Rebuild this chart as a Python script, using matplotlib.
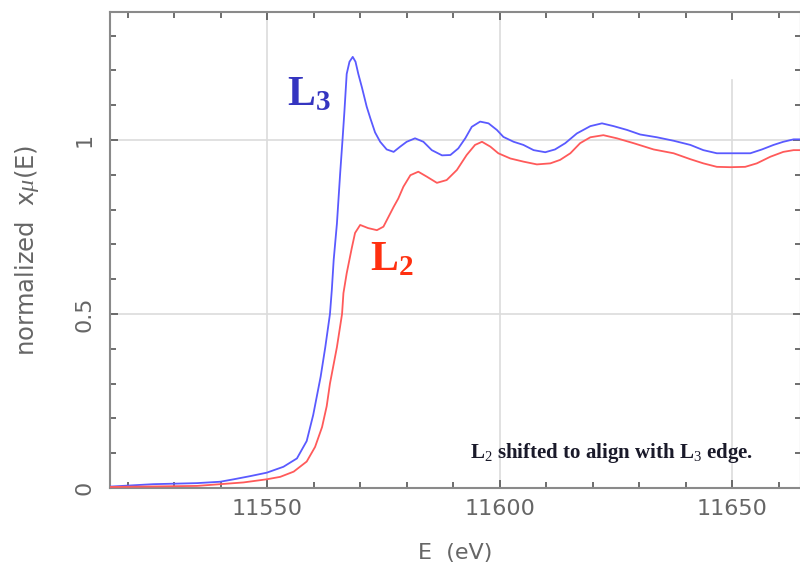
import matplotlib
matplotlib.use("Agg")
import matplotlib.pyplot as plt
from matplotlib.ticker import MultipleLocator

# ---- data ----
energy_L3 = [11516.2, 11525.5, 11534.9, 11539.9, 11542.8, 11546.3, 11549.9, 11553.5,
             11556.4, 11558.5, 11559.9, 11561.5, 11562.5, 11563.5, 11563.9, 11564.3,
             11565.0, 11565.7, 11566.2, 11566.6, 11567.1, 11567.7, 11568.4, 11569.0,
             11569.6, 11570.4, 11571.4, 11572.2, 11573.2, 11574.3, 11575.7, 11577.2,
             11578.6, 11580.0, 11581.8, 11583.6, 11585.4, 11587.6, 11589.4, 11591.1,
             11592.6, 11594.0, 11595.8, 11597.6, 11599.4, 11600.8, 11603.0, 11605.1,
             11607.3, 11609.8, 11611.9, 11614.1, 11616.6, 11619.5, 11622.0, 11624.5,
             11627.4, 11630.2, 11633.8, 11637.4, 11641.0, 11643.8, 11646.7, 11650.3,
             11653.9, 11656.4, 11658.9, 11661.0, 11663.2, 11664.8]
mu_L3 = [0.004, 0.011, 0.014, 0.018, 0.025, 0.034, 0.044, 0.061,
         0.085, 0.135, 0.210, 0.320, 0.405, 0.500, 0.569, 0.655,
         0.760, 0.905, 1.000, 1.080, 1.190, 1.225, 1.239, 1.225,
         1.190, 1.150, 1.096, 1.062, 1.022, 0.995, 0.973, 0.966,
         0.981, 0.995, 1.005, 0.995, 0.971, 0.956, 0.957, 0.976,
         1.005, 1.038, 1.053, 1.048, 1.029, 1.009, 0.995, 0.986,
         0.971, 0.965, 0.973, 0.991, 1.019, 1.040, 1.048, 1.040,
         1.029, 1.016, 1.008, 0.998, 0.986, 0.971, 0.962, 0.962,
         0.962, 0.973, 0.986, 0.995, 1.002, 1.002]

energy_L2 = [11516.2, 11534.9, 11539.9, 11544.9, 11549.9, 11552.8, 11555.7, 11558.5,
             11560.3, 11561.8, 11562.8, 11563.5, 11565.0, 11566.1, 11566.4, 11567.1,
             11568.2, 11568.9, 11570.0, 11571.7, 11573.6, 11575.0, 11577.2, 11578.2,
             11579.3, 11580.8, 11582.5, 11584.3, 11586.5, 11588.6, 11590.8, 11592.9,
             11594.7, 11596.2, 11598.0, 11599.7, 11602.3, 11605.1, 11608.0, 11610.9,
             11613.0, 11615.2, 11617.3, 11619.5, 11622.3, 11625.2, 11628.8, 11633.1,
             11637.4, 11641.0, 11643.8, 11646.7, 11649.6, 11652.8, 11655.3, 11658.2,
             11661.0, 11663.2, 11664.8]
mu_L2 = [0.003, 0.006, 0.011, 0.016, 0.025, 0.032, 0.047, 0.076,
         0.118, 0.175, 0.235, 0.300, 0.405, 0.500, 0.560, 0.617,
         0.690, 0.733, 0.756, 0.747, 0.741, 0.751, 0.808, 0.832,
         0.866, 0.899, 0.909, 0.895, 0.877, 0.885, 0.914, 0.957,
         0.986, 0.995, 0.981, 0.962, 0.947, 0.938, 0.930, 0.933,
         0.943, 0.962, 0.991, 1.008, 1.014, 1.005, 0.991, 0.973,
         0.962, 0.945, 0.933, 0.923, 0.922, 0.923, 0.933, 0.952,
         0.966, 0.971, 0.971]

x_major = [11550, 11600, 11650]
y_major = [0, 0.5, 1]
y_ticklabels = ["0", "0.5", "1"]
x_ticklabels = ["11550", "11600", "11650"]

# ---- styling ----
plt.rcParams['mathtext.fontset'] = 'custom'
plt.rcParams['mathtext.rm'] = 'Liberation Serif'
plt.rcParams['mathtext.bf'] = 'Liberation Serif:bold'
plt.rcParams['mathtext.it'] = 'Liberation Serif:italic'

grey_txt = '#666666'
fig = plt.figure(figsize=(8, 5.71), dpi=100)
ax = fig.add_axes([110/800, 1-488/571, 691/800, 476/571])

ax.set_xlim(11516.2, 11664.8)
ax.set_ylim(0, 1.368)

# grid
for xv in x_major:
    top = 0.857 if xv == 11650 else 1.0
    ax.axvline(xv, ymin=0, ymax=top, color='#dcdcdc', lw=1.2, zorder=0)
for yv in y_major:
    ax.axhline(yv, color='#dcdcdc', lw=1.2, zorder=0)

ax.plot(energy_L3, mu_L3, color='#5a5aff', lw=1.3, zorder=3)
ax.plot(energy_L2, mu_L2, color='#ff5a5a', lw=1.3, zorder=3)

ax.set_xticks(x_major)
ax.set_xticklabels(x_ticklabels)
ax.set_yticks(y_major)
ax.set_yticklabels(y_ticklabels)
ax.xaxis.set_minor_locator(MultipleLocator(10))
ax.yaxis.set_minor_locator(MultipleLocator(0.1))

ax.tick_params(which='both', direction='in', top=True, right=True,
               color='#555555', width=1.2)
ax.tick_params(which='major', length=6)
ax.tick_params(which='minor', length=4)
ax.tick_params(axis='x', which='major', labelsize=16, labelcolor=grey_txt, pad=8)
ax.tick_params(axis='y', which='major', labelsize=16, labelcolor=grey_txt, pad=11,
               labelrotation=90)
for lab in ax.get_yticklabels():
    lab.set_va('center')

for sp in ax.spines.values():
    sp.set_color('#8a8a8a')
    sp.set_linewidth(1.5)

ax.set_xlabel('E  (eV)', fontsize=16, color=grey_txt)
ax.xaxis.set_label_coords(0.5, -0.115)
ax.set_ylabel(r'normalized  x$\mu$(E)', fontsize=17.5, color=grey_txt)
ax.yaxis.set_label_coords(-0.1, 0.5)

# labels
ax.text(11554.3, 1.10, r'$\mathbf{L}_{\mathbf{3}}$', color='#3535c0', fontsize=30,
        ha='left', va='baseline')
ax.text(11572.2, 0.626, r'$\mathbf{L}_{\mathbf{2}}$', color='#ff3010', fontsize=30,
        ha='left', va='baseline')
ax.text(11593.7, 0.086, r'L$_{2}$ shifted to align with L$_{3}$ edge.',
        family='Liberation Serif', fontsize=15, fontweight='bold', color='#1a1a2a',
        ha='left', va='baseline')

fig.savefig('out.png', dpi=100)
